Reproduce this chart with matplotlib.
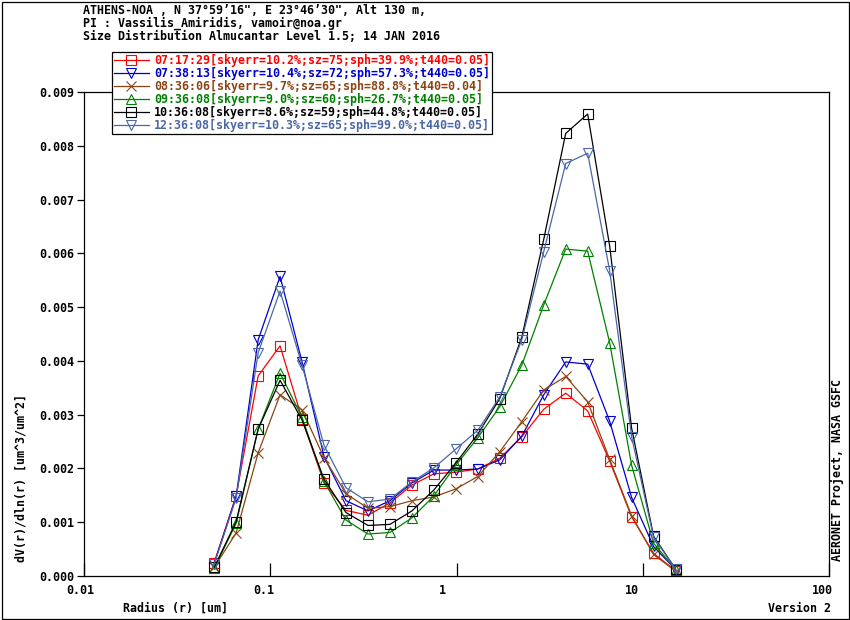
import numpy as np
import matplotlib
matplotlib.use("Agg")
import matplotlib.pyplot as plt
from matplotlib.patches import Rectangle
from matplotlib.transforms import ScaledTranslation

# AERONET almucantar size bins (um)
radius = [0.050, 0.0656, 0.0861, 0.1129, 0.1482, 0.1944, 0.2551, 0.3347,
          0.4392, 0.5762, 0.7561, 0.9920, 1.3016, 1.7078, 2.2407, 2.9400,
          3.8575, 5.0613, 6.6407, 8.7131, 11.4323, 15.000]

labels = [
    "07:17:29[skyerr=10.2%;sz=75;sph=39.9%;t440=0.05]",
    "07:38:13[skyerr=10.4%;sz=72;sph=57.3%;t440=0.05]",
    "08:36:06[skyerr=9.7%;sz=65;sph=88.8%;t440=0.04]",
    "09:36:08[skyerr=9.0%;sz=60;sph=26.7%;t440=0.05]",
    "10:36:08[skyerr=8.6%;sz=59;sph=44.8%;t440=0.05]",
    "12:36:08[skyerr=10.3%;sz=65;sph=99.0%;t440=0.05]",
]

dv_0717 = [0.00025, 0.00149, 0.00372, 0.00428, 0.00292, 0.00173, 0.00122, 0.00113,
           0.00136, 0.00169, 0.00190, 0.00193, 0.00199, 0.00219, 0.00259, 0.00310,
           0.00340, 0.00307, 0.00214, 0.00110, 0.00042, 0.00010]
dv_0738 = [0.00023, 0.00148, 0.00439, 0.00557, 0.00398, 0.00222, 0.00140, 0.00121,
           0.00140, 0.00173, 0.00197, 0.00197, 0.00199, 0.00216, 0.00260, 0.00337,
           0.00398, 0.00394, 0.00288, 0.00146, 0.00055, 0.00012]
dv_0836 = [0.00016, 0.00080, 0.00229, 0.00337, 0.00309, 0.00220, 0.00153, 0.00126,
           0.00129, 0.00140, 0.00147, 0.00162, 0.00185, 0.00231, 0.00287, 0.00346,
           0.00371, 0.00324, 0.00217, 0.00112, 0.00040, 0.00009]
dv_0936 = [0.00014, 0.00098, 0.00273, 0.00377, 0.00295, 0.00176, 0.00104, 0.00078,
           0.00081, 0.00108, 0.00149, 0.00206, 0.00257, 0.00315, 0.00392, 0.00504,
           0.00608, 0.00604, 0.00434, 0.00206, 0.00061, 0.00012]
dv_1036 = [0.00016, 0.00101, 0.00273, 0.00364, 0.00290, 0.00180, 0.00118, 0.00094,
           0.00096, 0.00121, 0.00160, 0.00210, 0.00264, 0.00330, 0.00444, 0.00626,
           0.00823, 0.00859, 0.00614, 0.00275, 0.00074, 0.00013]
dv_1236 = [0.00022, 0.00145, 0.00415, 0.00530, 0.00392, 0.00243, 0.00164, 0.00138,
           0.00143, 0.00175, 0.00201, 0.00236, 0.00271, 0.00333, 0.00439, 0.00603,
           0.00767, 0.00786, 0.00568, 0.00259, 0.00072, 0.00013]

series = [dv_0717, dv_0738, dv_0836, dv_0936, dv_1036, dv_1236]
colors = ["#ff0000", "#0000cc", "#8b4513", "#008000", "#000000", "#4a68a8"]
markers = ["s", "v", "x", "^", "s", "v"]

x_ticks = [0.01, 0.1, 1, 10, 100]
x_ticklabels = ["0.01", "0.1", "1", "10", "100"]
y_ticks = np.arange(0, 0.0091, 0.001)

FONT = "DejaVu Sans Mono"
FS = 8.4
plt.rcParams["font.family"] = FONT
plt.rcParams["font.weight"] = "bold"

W, H = 850, 620
fig = plt.figure(figsize=(8.5, 6.2), dpi=100)
ax = fig.add_axes([84 / W, 1 - 576 / H, (829 - 84) / W, (576 - 92) / H])

handles = []
for vals, col, mk, lab in zip(series, colors, markers, labels):
    h, = ax.plot(radius, vals, color=col, lw=0.9, marker=mk, markersize=7,
                 markerfacecolor="none", markeredgecolor=col, markeredgewidth=0.8,
                 label=lab)
    handles.append(h)

ax.set_xscale("log")
ax.set_xlim(0.01, 100)
ax.set_ylim(0, 0.009)
ax.set_xticks(x_ticks)
ax.set_xticklabels(x_ticklabels)
ax.minorticks_off()
ax.set_yticks(y_ticks)
ax.set_yticklabels(["%.3f" % v for v in y_ticks])
ax.tick_params(axis="x", direction="in", length=9.4, width=0.9, pad=6, labelsize=FS)
ax.tick_params(axis="y", direction="out", length=5, width=0.9, pad=2, labelsize=FS)
for s in ax.spines.values():
    s.set_linewidth(0.9)

# x labels sit left of their ticks in the original
shift = ScaledTranslation(-17.5 / 100, 0, fig.dpi_scale_trans)
for t in ax.get_xticklabels():
    t.set_horizontalalignment("left")
    t.set_transform(t.get_transform() + shift)

leg = fig.legend(handles=handles, loc="upper left",
                 bbox_to_anchor=(112 / W, 1 - 52 / H), bbox_transform=fig.transFigure,
                 prop={"family": FONT, "weight": "bold", "size": FS},
                 labelcolor="linecolor", fancybox=False, framealpha=1,
                 edgecolor="black", borderpad=0.15, borderaxespad=0,
                 handlelength=3.0, handletextpad=0.45, labelspacing=0.0)
leg.get_frame().set_linewidth(0.9)

title_lines = [
    "ATHENS-NOA , N 37°59’16\", E 23°46’30\", Alt 130 m,",
    "PI : Vassilis_Amiridis, vamoir@noa.gr",
    "Size Distribution Almucantar Level 1.5; 14 JAN 2016",
]
for i, line in enumerate(title_lines):
    fig.text(83 / W, 1 - (10 + 13 * i) / H, line, ha="left", va="center",
             fontsize=FS, fontweight="bold")

fig.text(123 / W, 1 - 608 / H, "Radius (r) [um]", ha="left", va="center",
         fontsize=FS, fontweight="bold")
fig.text(831 / W, 1 - 608 / H, "Version 2", ha="right", va="center",
         fontsize=FS, fontweight="bold")
fig.text(21.5 / W, 1 - 562 / H, "dV(r)/dln(r) [um^3/um^2]", rotation=90,
         ha="center", va="bottom", fontsize=FS, fontweight="bold")
fig.text(837 / W, 1 - 470 / H, "AERONET Project, NASA GSFC", rotation=90,
         ha="center", va="center", fontsize=FS, fontweight="bold")

# outer frame
fig.patches.append(Rectangle((1.5 / W, 1.5 / H), (W - 3) / W, (H - 3) / H,
                             transform=fig.transFigure, fill=False,
                             edgecolor="black", linewidth=0.9))

fig.savefig("out.png", dpi=100)
